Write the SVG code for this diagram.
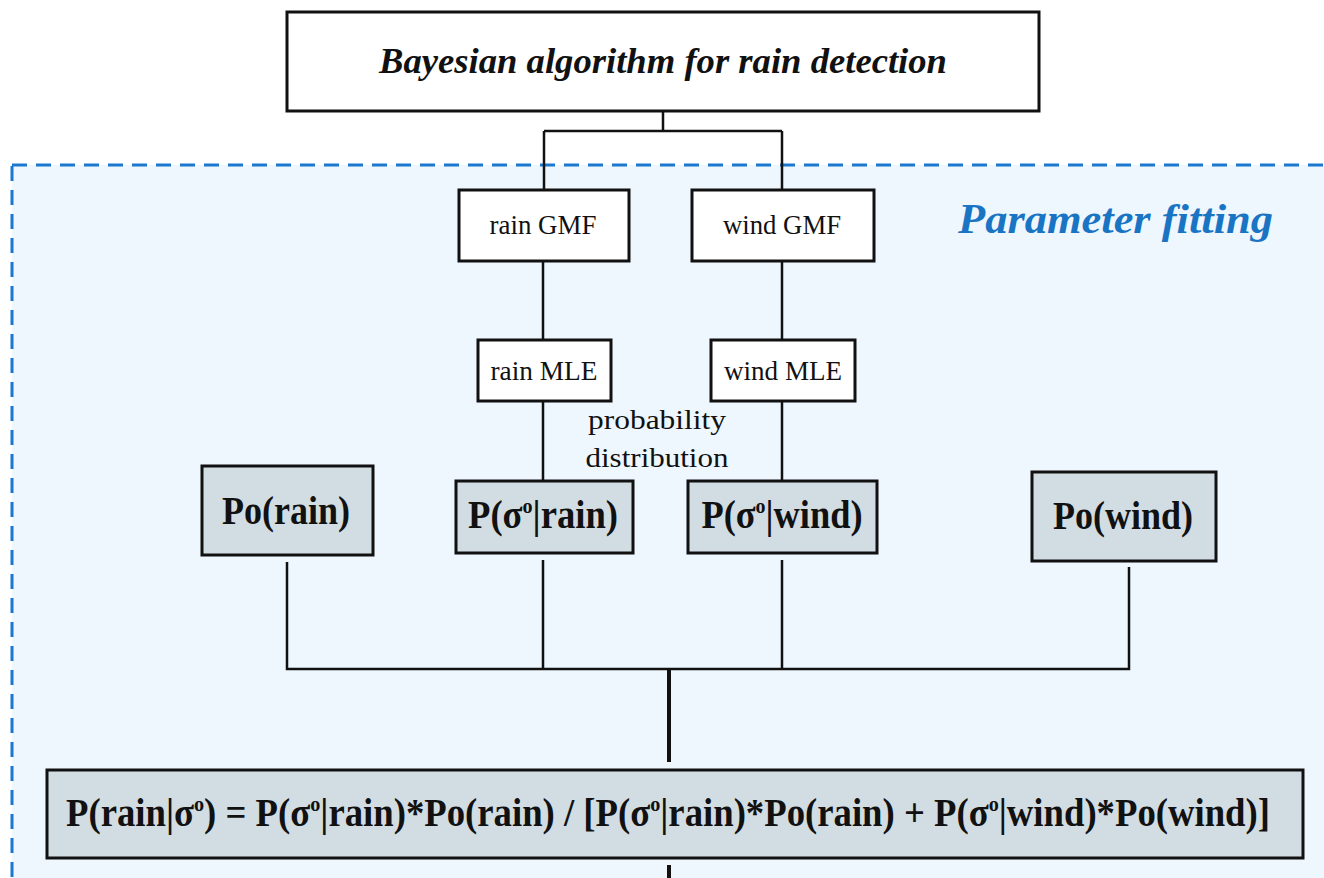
<svg xmlns="http://www.w3.org/2000/svg" width="1324" height="878" viewBox="0 0 1324 878">
<style>
.box{fill:#ffffff;stroke:#111;stroke-width:3}
.gbox{fill:#d2dde3;stroke:#111;stroke-width:3}
.sm{font-family:"Liberation Serif","Times New Roman",serif;font-size:28px;fill:#111;text-anchor:middle}
.bd{font-family:"Liberation Serif","Times New Roman",serif;font-size:40px;font-weight:bold;fill:#111;text-anchor:middle}
.ln{fill:none;stroke:#111;stroke-width:2.5}
</style>
<rect width="1324" height="878" fill="#ffffff"/>
<rect id="panel" x="12" y="165" width="1330" height="730" fill="#eef7fe" stroke="#1a78d0" stroke-width="3" stroke-dasharray="15 9"/>
<text x="1273" y="233" font-family="'Liberation Serif','Times New Roman',serif" font-size="42" font-weight="bold" font-style="italic" fill="#1a74c4" text-anchor="end" textLength="315" lengthAdjust="spacingAndGlyphs">Parameter fitting</text>
<g id="connectors">
<path class="ln" d="M663 111V131M544 131H782M544 131V190M782 131V190"/>
<path class="ln" d="M543 261V340M782 261V340M543 401V482M782 401V482"/>
<path class="ln" d="M287 562V669H1129V567M543 560V669M782 560V669"/>
<path fill="none" stroke="#111" stroke-width="4" d="M669 669V762M669 865V878"/>
</g>
<g id="top"><rect class="box" x="287" y="12" width="752" height="99"/>
<text x="663" y="73" font-family="'Liberation Serif','Times New Roman',serif" font-size="36" font-weight="bold" font-style="italic" fill="#111" text-anchor="middle" textLength="568" lengthAdjust="spacingAndGlyphs">Bayesian algorithm for rain detection</text></g>
<g id="rainGMF"><rect class="box" x="459" y="190" width="170" height="71"/><text class="sm" x="543" y="234" textLength="107" lengthAdjust="spacingAndGlyphs">rain GMF</text></g>
<g id="windGMF"><rect class="box" x="692" y="190" width="182" height="71"/><text class="sm" x="782" y="234" textLength="118" lengthAdjust="spacingAndGlyphs">wind GMF</text></g>
<g id="rainMLE"><rect class="box" x="478" y="340" width="133" height="61"/><text class="sm" x="544" y="380" textLength="107" lengthAdjust="spacingAndGlyphs">rain MLE</text></g>
<g id="windMLE"><rect class="box" x="711" y="340" width="144" height="61"/><text class="sm" x="783" y="380" textLength="118" lengthAdjust="spacingAndGlyphs">wind MLE</text></g>
<g id="label"><text class="sm" x="657" y="429" font-size="29" textLength="138" lengthAdjust="spacingAndGlyphs">probability</text><text class="sm" x="657" y="467" font-size="29" textLength="143" lengthAdjust="spacingAndGlyphs">distribution</text></g>
<g id="poRain"><rect class="gbox" x="202" y="466" width="171" height="89"/><text class="bd" x="286" y="524" textLength="128" lengthAdjust="spacingAndGlyphs">Po(rain)</text></g>
<g id="pSigmaRain"><rect class="gbox" x="456" y="481" width="177" height="72"/><text class="bd" x="543" y="528" textLength="150" lengthAdjust="spacingAndGlyphs">P(σ<tspan dy="-15" font-size="22">o</tspan><tspan dy="15">|rain)</tspan></text></g>
<g id="pSigmaWind"><rect class="gbox" x="688" y="481" width="189" height="72"/><text class="bd" x="782" y="528" textLength="161" lengthAdjust="spacingAndGlyphs">P(σ<tspan dy="-15" font-size="22">o</tspan><tspan dy="15">|wind)</tspan></text></g>
<g id="poWind"><rect class="gbox" x="1032" y="472" width="184" height="89"/><text class="bd" x="1123" y="529" textLength="140" lengthAdjust="spacingAndGlyphs">Po(wind)</text></g>
<g id="formula"><rect class="gbox" x="47" y="770" width="1256" height="88"/>
<text class="bd" x="668" y="826" textLength="1204" lengthAdjust="spacingAndGlyphs">P(rain|σ<tspan dy="-15" font-size="22">o</tspan><tspan dy="15">) = P(σ</tspan><tspan dy="-15" font-size="22">o</tspan><tspan dy="15">|rain)*Po(rain) / [P(σ</tspan><tspan dy="-15" font-size="22">o</tspan><tspan dy="15">|rain)*Po(rain) + P(σ</tspan><tspan dy="-15" font-size="22">o</tspan><tspan dy="15">|wind)*Po(wind)]</tspan></text></g>
</svg>
